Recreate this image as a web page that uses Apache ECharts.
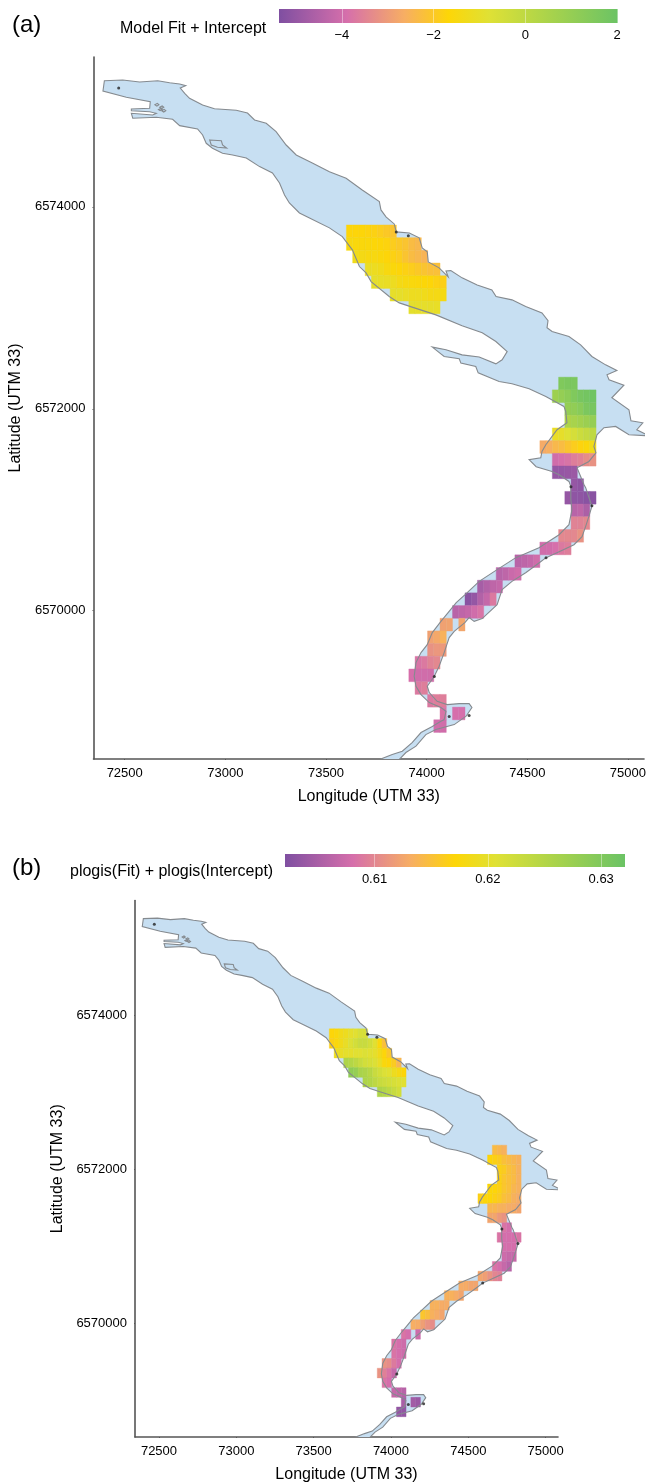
<!DOCTYPE html>
<html>
<head>
<meta charset="utf-8">
<style>html,body{margin:0;padding:0;background:#fff}#c{width:649px;height:1484px}</style>
<script src="https://cdn.jsdelivr.net/npm/echarts@6/dist/echarts.min.js"></script>
</head>
<body>
<div id="c"></div>
<script>
// ---- Tick labels ----
const eastingTicks = [72500, 73000, 73500, 74000, 74500, 75000];
const northingTicks = [6570000, 6572000, 6574000];
const fitTicks = [-4, -2, 0, 2];
const plogisTicks = [0.61, 0.62, 0.63];

// ---- Shoreline (UTM 33 metres) ----
const lakeE = [72399,72490,72574,72664,72723,72773,72803,72776,72798,72822,72887,72946,73054,73110,73145,73203,73252,73302,73352,73432,73517,73600,73680,73765,73773,73798,73839,73849,73914,73963,73978,74003,74008,74062,74107,74096,74120,74176,74251,74324,74345,74424,74492,74573,74603,74598,74623,74707,74765,74821,74889,74945,74896,74906,74980,74920,75005,75015,75074,75044,75094,75094,75005,74939,74881,74846,74831,74841,74806,74747,74782,74790,74821,74806,74790,74772,74732,74658,74593,74558,74492,74424,74375,74350,74276,74236,74211,74191,74137,74112,74087,74062,74038,74003,74013,74052,74102,74162,74211,74225,74196,74137,74046,73996,73947,73897,73854,73740,73829,73879,73928,73972,74028,74071,74087,74096,74071,74013,73972,73947,73938,73947,73972,74003,74028,74071,74127,74147,74191,74261,74350,74443,74558,74658,74707,74722,74716,74716,74707,74658,74623,74544,74509,74567,74573,74592,74623,74648,74697,74691,74682,74592,74509,74424,74360,74256,74244,74170,74162,74087,74028,74096,74176,74261,74344,74375,74400,74344,74276,74176,74046,73928,73864,73814,73724,73699,73666,73631,73581,73517,73418,73368,73318,73294,73269,73234,73170,73104,73036,72986,72936,72905,72887,72862,72773,72738,72657,72540,72533,72639,72657,72624,72533,72533,72624,72627,72508,72392];
const lakeN = [6575250,6575257,6575237,6575250,6575230,6575217,6575201,6575178,6575125,6575076,6575009,6574973,6574957,6574930,6574861,6574828,6574745,6574613,6574514,6574435,6574349,6574284,6574168,6574052,6573970,6573901,6573831,6573752,6573742,6573693,6573594,6573554,6573455,6573396,6573307,6573366,6573369,6573297,6573227,6573178,6573112,6573079,6573013,6572950,6572874,6572802,6572765,6572716,6572633,6572518,6572435,6572379,6572336,6572287,6572233,6572109,6571990,6571881,6571861,6571792,6571742,6571733,6571742,6571825,6571812,6571742,6571627,6571564,6571478,6571416,6571247,6571218,6571033,6570934,6570835,6570733,6570653,6570584,6570525,6570472,6570376,6570290,6570208,6570059,6569921,6569894,6569931,6569884,6569795,6569733,6569584,6569449,6569350,6569251,6569188,6569102,6569069,6569079,6569079,6569040,6568954,6568871,6568822,6568772,6568657,6568594,6568505,6568505,6568574,6568607,6568693,6568792,6568852,6568904,6568921,6569003,6569040,6569089,6569168,6569251,6569350,6569485,6569584,6569663,6569782,6569894,6570030,6570079,6570158,6570290,6570406,6570525,6570624,6570752,6570851,6571000,6571099,6571231,6571280,6571346,6571379,6571426,6571495,6571515,6571577,6571643,6571726,6571792,6571861,6571973,6572023,6572122,6572198,6572247,6572270,6572356,6572419,6572452,6572495,6572518,6572611,6572584,6572534,6572512,6572445,6572485,6572567,6572666,6572752,6572822,6572930,6573007,6573049,6573112,6573260,6573346,6573409,6573574,6573706,6573792,6573891,6573940,6574039,6574118,6574237,6574336,6574399,6574485,6574514,6574531,6574581,6574630,6574712,6574772,6574805,6574868,6574888,6574878,6574927,6574910,6574927,6574943,6574953,6574970,6574977,6575042,6575086,6575148];
const islandsE = [
  [72922,72980,72986,73006,72961,72930],
  [72650,72662,72670,72660,72650],
  [72674,72686,72694,72684,72674],
  [72684,72696,72704,72694,72684],
  [72668,72680,72686,72676,72668]
];
const islandsN = [
  [6574663,6574656,6574613,6574584,6574591,6574613],
  [6575012,6575026,6575012,6574998,6575012],
  [6574987,6575000,6574987,6574974,6574987],
  [6574953,6574966,6574953,6574940,6574953],
  [6574965,6574975,6574965,6574955,6574965]
];
const siteE = [72470,73849,73909,74717,74821,74593,74038,74112,74211];
const siteN = [6575178,6573752,6573713,6571228,6571040,6570525,6569347,6568951,6568961];

// ---- Model grid: one entry per occupied row (null = gap in a row) ----
const cellWidth = 31, cellHeight = 125.7;
const rowNorthing = [6573758,6573632,6573507,6573381,6573255,6573130,6573004,6572250,6572124,6571998,6571873,6571747,6571621,6571495,6571370,6571244,6571118,6570993,6570867,6570741,6570616,6570490,6570364,6570238,6570113,6569987,6569861,6569736,6569610,6569484,6569359,6569233,6569107,6568981,6568856];
const rowFirstEasting = [73617,73617,73648,73710,73741,73834,73927,74671,74640,74702,74702,74640,74578,74640,74640,74733,74702,74733,74733,74671,74578,74454,74361,74268,74206,74144,74082,74020,74020,73958,73927,73958,74020,74082,74051];
const fitValues = [
  [-1.7,-1.7,-1.7,-1.75,-1.8,-1.9,-2.0,-2.1],
  [-1.5,-1.55,-1.6,-1.6,-1.65,-1.7,-1.75,-1.9,-2.0,-2.1,-2.3,-2.4],
  [-1.3,-1.4,-1.5,-1.5,-1.6,-1.7,-1.8,-1.9,-2.1,-2.3,-2.4,-2.5],
  [-1.1,-1.2,-1.3,-1.5,-1.6,-1.7,-1.8,-1.9,-2.0,-2.1,-2.2,-2.2],
  [-1.0,-1.05,-1.1,-1.2,-1.4,-1.5,-1.55,-1.6,-1.65,-1.7,-1.8,-1.85],
  [-1.0,-1.0,-1.1,-1.2,-1.2,-1.3,-1.4,-1.4,-1.45],
  [-0.95,-1,-1,-1,-1.05],
  [1.5,1.6,1.6],
  [0.8,1.0,1.2,1.5,1.7,1.8,1.9],
  [1.0,1.1,1.3,1.6,1.7],
  [0.4,0.55,0.7,0.85,1.0],
  [-1.1,-1.0,-0.8,-0.55,-0.3,-0.15,0],
  [-2.7,-2.6,-2.4,-2.3,-2.1,-1.9,-1.75,-1.6,-1.3],
  [-4.0,-3.9,-3.8,-3.6,-3.5,-3.3,-3.2],
  [-5.0,-5.0,-4.95,-4.9],
  [-5.0,-5.1],
  [-5,-5.1,-5.1,-5.2,-5.2],
  [-4.4,-4.3,-4.6],
  [-3.5,-3.5,-3.4],
  [-3.4,-3.4,-3.4,-3.2],
  [-4.0,-4.0,-3.9,-3.7,-3.6],
  [-4.4,-4.3,-4.2,-4.0],
  [-4.4,-4.3,-4.1,-4.0],
  [-4.7,-4.5,-4.3,-4.2],
  [-5.2,-5.0,-4.5,-4.2,-3.7],
  [-4.4,-4.3,-4.2,-4.0,-3.8],
  [-2.9,-2.85,null,-2.8],
  [-2.9,-2.75,-2.55],
  [-3.2,-3.1,-3.05],
  [-3.8,-3.7,-3.5,-3.4],
  [-3.9,-4,-4,-4],
  [-3.7,-3.6],
  [-3.7,-3.6,-3.6],
  [-3.8,null,-3.9,-3.9],
  [-4,-4]
];
const plogisValues = [
  [0.617,0.6175,0.6185,0.619,0.62,0.6205,0.6215,0.6215],
  [0.6165,0.6175,0.6185,0.6195,0.621,0.622,0.623,0.623,0.622,0.6205,0.6175,0.615],
  [0.619,0.6195,0.62,0.62,0.6205,0.6205,0.621,0.6205,0.62,0.6185,0.617,0.6155],
  [0.6255,0.625,0.624,0.623,0.622,0.6215,0.621,0.6195,0.6175,0.617,0.616,0.614],
  [0.6285,0.628,0.626,0.6255,0.6245,0.623,0.622,0.621,0.6205,0.619,0.618,0.617],
  [0.6255,0.625,0.624,0.623,0.6225,0.622,0.6215,0.621,0.6205],
  [0.6255,0.625,0.624,0.623,0.622],
  [0.6145,0.614,0.6135],
  [0.617,0.6165,0.616,0.615,0.6145,0.614,0.6135],
  [0.6165,0.616,0.615,0.6145,0.6135],
  [0.6165,0.6155,0.615,0.6145,0.6135],
  [0.6172,0.617,0.6165,0.6155,0.615,0.614,0.6135],
  [0.6165,0.617,0.6172,0.6165,0.616,0.615,0.6145,0.6135,0.613],
  [0.614,0.614,0.6135,0.6135,0.613,0.613,0.6125],
  [0.6125,0.6125,0.6115,0.611],
  [0.6085,0.608],
  [0.6085,0.608,0.608,0.608,0.6085],
  [0.608,0.608,0.608],
  [0.6075,0.607,0.607],
  [0.6085,0.608,0.607,0.606],
  [0.6125,0.612,0.611,0.61,0.6095],
  [0.613,0.613,0.6125,0.6125],
  [0.6135,0.6135,0.613,0.6125],
  [0.6135,0.6135,0.613,0.613],
  [0.6155,0.6148,0.6135,0.613,0.6125],
  [0.6132,0.613,0.612,0.611,0.6105],
  [0.6085,0.608,null,0.6075],
  [0.6085,0.608,0.6075],
  [0.6085,0.608,0.6075],
  [0.611,0.6105,0.609,0.608],
  [0.611,0.6095,0.6085,0.607],
  [0.6085,0.608],
  [0.607,0.6065,0.606],
  [0.605,null,0.6045,0.604],
  [0.6035,0.6035]
];

// ---- Colour scale ----
const rampStops = [0, 0.2, 0.37, 0.5, 0.62, 1];
const rampColors = ['#7f4fa1', '#d66fab', '#f7ae63', '#fdd607', '#dfe135', '#6bc365'];
const fitRange = [-5.37, 2.02];
const plogisRange = [0.6021, 0.6321];

function rampColor(v, range) {
  const t = Math.max(0, Math.min(1, (v - range[0]) / (range[1] - range[0])));
  for (let i = 1; i < rampStops.length; i++) {
    if (t <= rampStops[i]) {
      const f = (t - rampStops[i - 1]) / (rampStops[i] - rampStops[i - 1]);
      return echarts.color.lerp(f, [rampColors[i - 1], rampColors[i]]);
    }
  }
  return rampColors[rampColors.length - 1];
}

const FONT = '"Liberation Sans", Arial, sans-serif';
const chart = echarts.init(document.getElementById('c'));
const polys = [{E: lakeE, N: lakeN}].concat(islandsE.map((e, i) => ({E: e, N: islandsN[i]})));
const siteData = siteE.map((e, i) => [e, siteN[i]]);

function cellData(values) {
  const out = [];
  values.forEach((row, r) => row.forEach((v, i) => {
    if (v !== null) out.push([rowFirstEasting[r] + i * cellWidth, rowNorthing[r], v]);
  }));
  return out;
}
function polyRender(mode) {
  return function (params, api) {
    const p = polys[params.dataIndex];
    const points = p.E.map((e, i) => api.coord([e, p.N[i]]));
    return {
      type: 'polygon',
      shape: {points},
      style: mode === 'fill'
        ? {fill: '#c7dff2', stroke: null}
        : {fill: null, stroke: '#858a8f', lineWidth: 1.1}
    };
  };
}
function axisText(size) { return {fontFamily: FONT, fontSize: size, color: '#000'}; }

const grids = [], xAxes = [], yAxes = [], series = [];
function mapPanel(box, values, range, gapX, gapY) {
  const g = grids.length;
  grids.push(box);
  xAxes.push({
    gridIndex: g, type: 'value', min: 72345, max: 75080, splitLine: {show: false},
    axisLine: {show: true, onZero: false, lineStyle: {color: '#555', width: 1.6}},
    axisTick: {show: true, length: 1, customValues: eastingTicks, lineStyle: {color: '#555'}},
    axisLabel: Object.assign({customValues: eastingTicks, margin: 8, hideOverlap: false, formatter: v => String(v)}, axisText(13)),
    name: 'Longitude (UTM 33)', nameLocation: 'middle', nameGap: gapX,
    nameTextStyle: axisText(16)
  });
  yAxes.push({
    gridIndex: g, type: 'value', min: 6568530, max: 6575485, splitLine: {show: false},
    axisLine: {show: true, onZero: false, lineStyle: {color: '#555', width: 1.6}},
    axisTick: {show: true, length: 1, customValues: northingTicks, lineStyle: {color: '#555'}},
    axisLabel: Object.assign({customValues: northingTicks, margin: 8, hideOverlap: false, formatter: v => String(v)}, axisText(13)),
    name: 'Latitude (UTM 33)', nameLocation: 'middle', nameGap: gapY,
    nameTextStyle: axisText(16)
  });
  const common = {xAxisIndex: g, yAxisIndex: g, clip: true, silent: true, animation: false};
  const polyData = polys.map(p => [p.E[0], p.N[0]]);
  series.push(Object.assign({type: 'custom', z: 1, renderItem: polyRender('fill'), data: polyData}, common));
  series.push(Object.assign({
    type: 'custom', z: 2, data: cellData(values),
    renderItem(params, api) {
      const e = api.value(0), n = api.value(1), v = api.value(2);
      const a = api.coord([e - cellWidth / 2, n + cellHeight / 2]);
      const b = api.coord([e + cellWidth / 2, n - cellHeight / 2]);
      const c = rampColor(v, range);
      return {type: 'rect', shape: {x: a[0], y: a[1], width: b[0] - a[0], height: b[1] - a[1]},
        style: {fill: c, stroke: c, lineWidth: 0.4}};
    }
  }, common));
  series.push(Object.assign({type: 'custom', z: 3, renderItem: polyRender('line'), data: polyData}, common));
  series.push(Object.assign({type: 'scatter', z: 4, symbolSize: 3, data: siteData,
    itemStyle: {color: '#222'}}, common));
}
function barPanel(box, range, ticks, fmt) {
  const g = grids.length;
  grids.push(box);
  xAxes.push({
    gridIndex: g, type: 'value', min: range[0], max: range[1], splitLine: {show: false},
    axisLine: {show: false},
    axisTick: {show: true, inside: true, length: box.height, customValues: ticks, lineStyle: {color: 'rgba(255,255,255,0.4)', width: 1}},
    axisLabel: Object.assign({customValues: ticks, margin: 6, hideOverlap: false, formatter: fmt}, axisText(13)),
    z: 10
  });
  yAxes.push({gridIndex: g, type: 'value', min: 0, max: 1, show: false});
  series.push({
    type: 'custom', xAxisIndex: g, yAxisIndex: g, silent: true, animation: false, z: 2,
    data: [[range[0], 0, range[1], 1]],
    renderItem(params, api) {
      const a = api.coord([api.value(0), api.value(3)]);
      const b = api.coord([api.value(2), api.value(1)]);
      return {type: 'rect', shape: {x: a[0], y: a[1], width: b[0] - a[0], height: b[1] - a[1]},
        style: {fill: new echarts.graphic.LinearGradient(0, 0, 1, 0,
          rampStops.map((s, i) => ({offset: s, color: rampColors[i]})))}};
    }
  });
}

mapPanel({left: 93, top: 57, width: 552, height: 702}, fitValues, fitRange, 30, 60);
mapPanel({left: 135, top: 900.5, width: 423, height: 539}, plogisValues, plogisRange, 30, 60);
barPanel({left: 279, top: 9, width: 339, height: 14}, fitRange, fitTicks, v => String(v).replace('-', '\u2212'));
barPanel({left: 285, top: 854, width: 340, height: 13}, plogisRange, plogisTicks, v => v.toFixed(2));

const textLabels = [
  {text: '(a)', x: 12, y: 28, size: 24},
  {text: 'Model Fit + Intercept', x: 120, y: 30, size: 16},
  {text: '(b)', x: 12, y: 871, size: 24},
  {text: 'plogis(Fit) + plogis(Intercept)', x: 70, y: 873, size: 16}
];

chart.setOption({
  backgroundColor: '#fff',
  animation: false,
  grid: grids.map(b => Object.assign({containLabel: false}, b)),
  xAxis: xAxes,
  yAxis: yAxes,
  series: series,
  graphic: textLabels.map(t => ({
    type: 'text', left: t.x, top: t.y - t.size * 0.6,
    style: {text: t.text, fontFamily: FONT, fontSize: t.size, fill: '#000'}
  }))
});
</script>
</body>
</html>
